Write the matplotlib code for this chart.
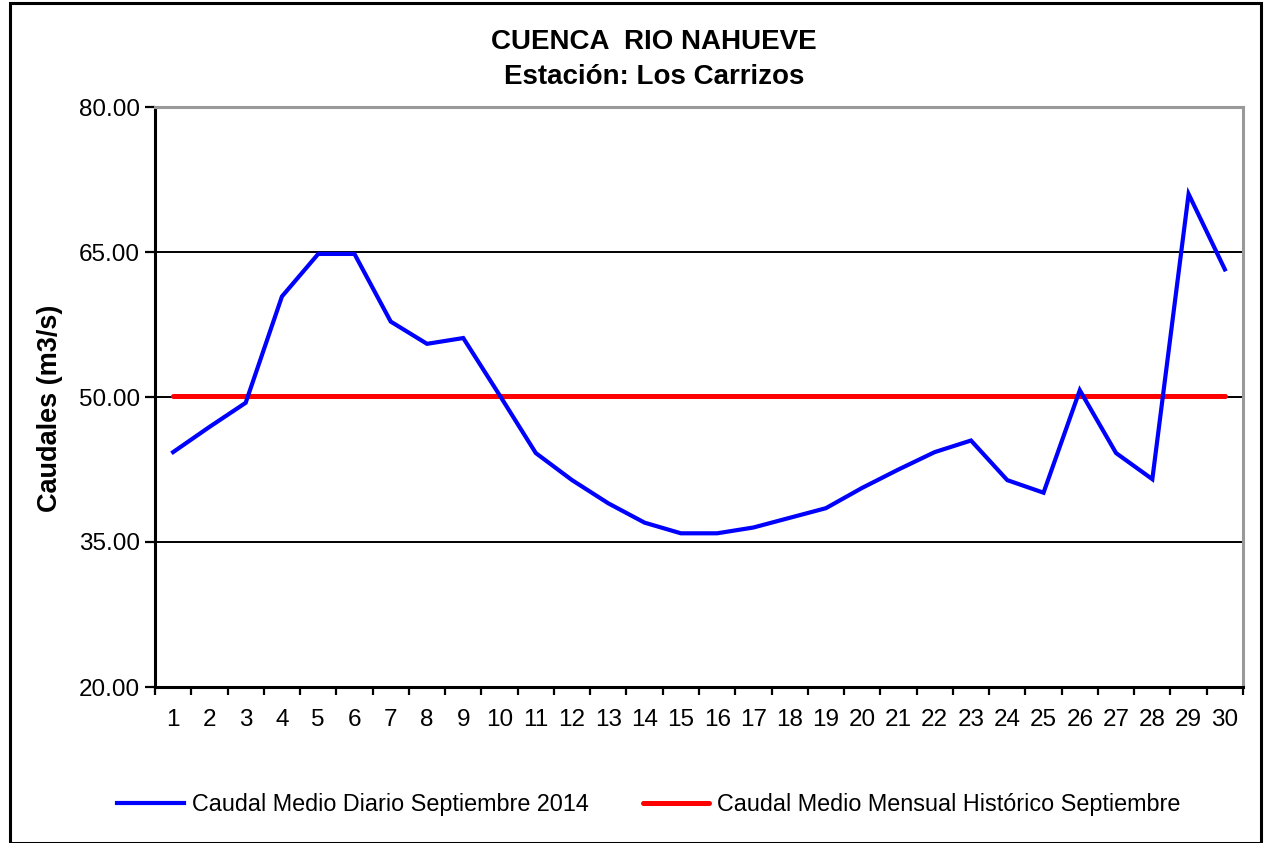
import matplotlib
matplotlib.use("Agg")
import matplotlib.pyplot as plt
from matplotlib.patches import Rectangle

plt.rcParams['font.family'] = ['Liberation Sans', 'DejaVu Sans']

# daily mean flow, September 2014 (m3/s)
dias = list(range(1, 31))
caudal_diario = [44.3, 46.9, 49.4, 60.4, 64.8, 64.8, 57.8, 55.5, 56.1, 50.2,
                 44.2, 41.4, 39.0, 37.0, 35.9, 35.9, 36.5, 37.5, 38.5, 40.6,
                 42.5, 44.3, 45.5, 41.4, 40.1, 50.7, 44.2, 41.5, 71.0, 63.2]
caudal_historico = [50.15] * 30
yticks = [20, 35, 50, 65, 80]

fig = plt.figure(figsize=(12.69, 8.43), dpi=100)
ax = fig.add_axes([155/1269, 1 - 687/843, 1088/1269, 580/843])

ax.plot(dias, caudal_diario, color='#0000ff', lw=3.0, solid_joinstyle='miter',
        label='Caudal Medio Diario Septiembre 2014', zorder=4)
ax.plot(dias, caudal_historico, color='#ff0000', lw=3.6, solid_capstyle='round',
        label='Caudal Medio Mensual Histórico Septiembre', zorder=3)

ax.set_xlim(0.5, 30.5)
ax.set_ylim(20, 80)
ax.set_yticks(yticks)
ax.set_yticklabels([f'{v:.2f}' for v in yticks], fontsize=17.5)
for v in yticks[1:-1]:
    ax.axhline(v, color='black', lw=1.4, zorder=1)

# category ticks between days, labels centred on days
ax.set_xticks([d - 0.5 for d in dias] + [30.5])
ax.set_xticklabels([])
ax.set_xticks(dias, minor=True)
ax.set_xticklabels([str(d) for d in dias], minor=True, fontsize=17.5)
ax.tick_params(axis='x', which='major', length=6, width=1.6, direction='out')
ax.tick_params(axis='x', which='minor', length=0, pad=16)
ax.tick_params(axis='y', length=7, width=1.6, direction='out', pad=4)

for s in ['left', 'bottom']:
    ax.spines[s].set_linewidth(2.2)
    ax.spines[s].set_color('black')
for s in ['top', 'right']:
    ax.spines[s].set_linewidth(2.2)
    ax.spines[s].set_color('#999999')

ax.set_ylabel('Caudales (m3/s)', fontsize=19.5, fontweight='bold')
ax.yaxis.set_label_coords(-0.085, 0.48)

fig.text(0.5155, 1 - 42/843, 'CUENCA  RIO NAHUEVE', ha='center', va='center',
         fontsize=20, fontweight='bold')
fig.text(0.5155, 1 - 77/843, 'Estación: Los Carrizos', ha='center', va='center',
         fontsize=20, fontweight='bold')

fig.legend(loc='center', bbox_to_anchor=(649/1269, 1 - 805/843), ncol=2,
           frameon=False, fontsize=16.8, handlelength=2.85, columnspacing=2.3,
           handletextpad=0.35)

fig.patches.append(Rectangle((10/1269, 0), 1251/1269, 1 - 3/843, transform=fig.transFigure,
                             fill=False, edgecolor='black', lw=2.2))

fig.savefig('out.png', dpi=100)
